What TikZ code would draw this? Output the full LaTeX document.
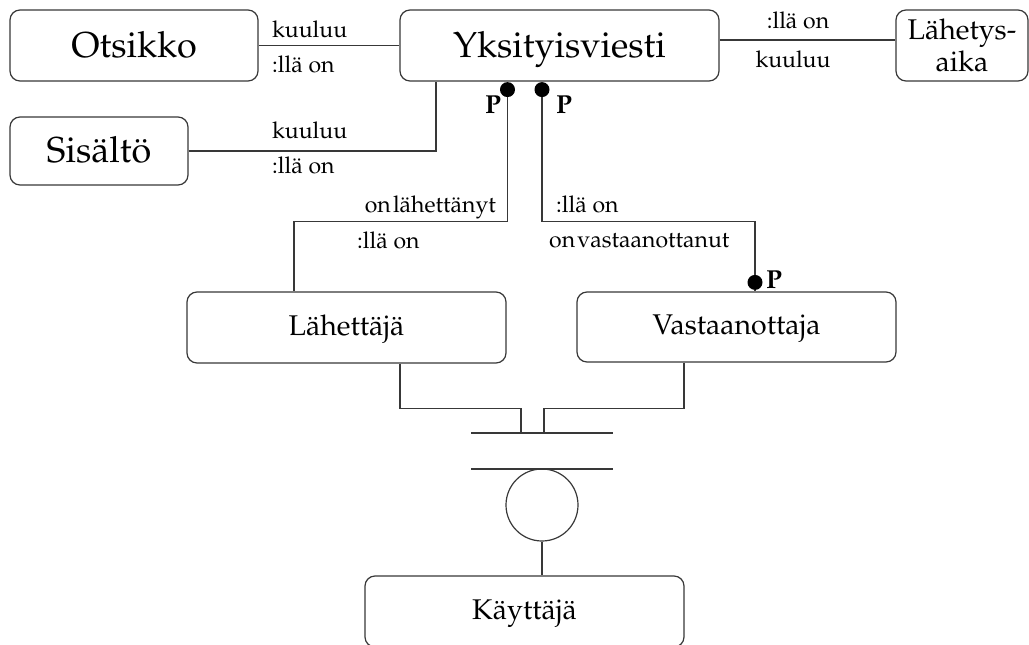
\documentclass[tikz,border=0pt]{standalone}
\usepackage[T1]{fontenc}
\usepackage{mathpazo}
\begin{document}
\begin{tikzpicture}[x=1pt,y=-1pt,
  framed/.style={draw=black!78, line width=1.2pt, rounded corners=10pt, inner sep=0pt,
    minimum height=71pt, font=\fontsize{28.5}{32}\selectfont},
  box/.style={framed, text height=15.7pt, text depth=0pt},
  bigbox/.style={box, font=\fontsize{36}{40}\selectfont, text height=23pt},
  twoline/.style={framed, align=center},
  link/.style={draw=black!78, line width=1.2pt},
  lbl/.style={font=\fontsize{23}{26}\selectfont, inner sep=0pt},
  pmark/.style={font=\fontsize{26}{28}\selectfont\bfseries, inner sep=0pt},
  dot/.style={circle, fill=black, inner sep=0pt, minimum size=15pt},
]
\useasboundingbox (0,0) rectangle (1029,645);

% entities
\node[bigbox, minimum width=248pt] (otsikko) at (134,45.5) {Otsikko};
\node[bigbox, minimum width=319pt] (yv) at (559.5,45.5) {Yksityisviesti};
\node[twoline, minimum width=132pt] (laika) at (962,45.5) {L\"ahetys-\\aika};
\node[bigbox, minimum width=178pt, minimum height=68pt] (sisalto) at (99,151) {Sis\"alt\"o};
\node[box, minimum width=319pt] (lahettaja) at (346.5,327.5) {L\"ahett\"aj\"a};
\node[box, minimum width=319pt, minimum height=70pt] (vast) at (736.5,327) {Vastaanottaja};
\node[box, minimum width=319pt] (kayttaja) at (524.5,611.5) {K\"aytt\"aj\"a};

% participation dots
\node[dot] (d1) at ([xshift=-52pt,yshift=-8pt]yv.south) {};
\node[dot] (d2) at ([xshift=-17.5pt,yshift=-8pt]yv.south) {};
\node[dot] (d3) at ([xshift=18.5pt,yshift=9pt]vast.north) {};

% relationships
\draw[link] (otsikko.east) -- (yv.west);
\draw[link] ([yshift=5.5pt]yv.east) -- ([yshift=5.5pt]laika.west);
\draw[link] (sisalto.east) -| ([xshift=-123.5pt]yv.south);
\draw[link] (d1.south) -- ++(0,124.5) -| ([xshift=-52.5pt]lahettaja.north);
\draw[link] (d2.south) -- ++(0,124.5) -| (d3.north);
\draw[link] (d3.south) -- (d3 |- vast.north);

% labels
\node[lbl, anchor=base west] (l1) at (272,37) {kuuluu};
\node[lbl, anchor=base west] (l2) at (272,72) {:ll\"a on};
\node[lbl, anchor=base west] (l3) at (272,138) {kuuluu};
\node[lbl, anchor=base west] (l4) at (272,173) {:ll\"a on};
\node[lbl, anchor=base] (l5) at (798,28) {:ll\"a on};
\node[lbl, anchor=base] (l6) at (793,67) {kuuluu};
\node[lbl, anchor=base east] (l7) at (496,212) {on\hspace{0.1em}l\"ahett\"anyt};
\node[lbl, anchor=base west] (l8) at (357,248) {:ll\"a on};
\node[lbl, anchor=base west] (l9) at (556,212) {:ll\"a on};
\node[lbl, anchor=base west] (l10) at (549,247) {on\hspace{0.1em}vastaanottanut};
\node[pmark, anchor=base west] (p1) at (485,113) {P};
\node[pmark, anchor=base west] (p2) at (556,113) {P};
\node[pmark, anchor=base west] (p3) at (766,288) {P};

% generalisation to user
\node[circle, draw=black!78, line width=1.2pt, minimum size=72pt, inner sep=0pt] (circ) at (542,505) {};
\coordinate (barA) at (542,433);
\coordinate (barB) at (542,469);
\draw[link] ([xshift=-71pt]barA) -- ([xshift=71pt]barA);
\draw[link] ([xshift=-71pt]barB) -- ([xshift=71pt]barB);
\draw[link] ([xshift=53.5pt]lahettaja.south) -- ++(0,44.5) -| ([xshift=-21pt]barA);
\draw[link] ([xshift=-52.5pt]vast.south) -- ++(0,45.5) -| ([xshift=2pt]barA);
\draw[link] (circ.south) -- (circ.south |- kayttaja.north);
\end{tikzpicture}
\end{document}
